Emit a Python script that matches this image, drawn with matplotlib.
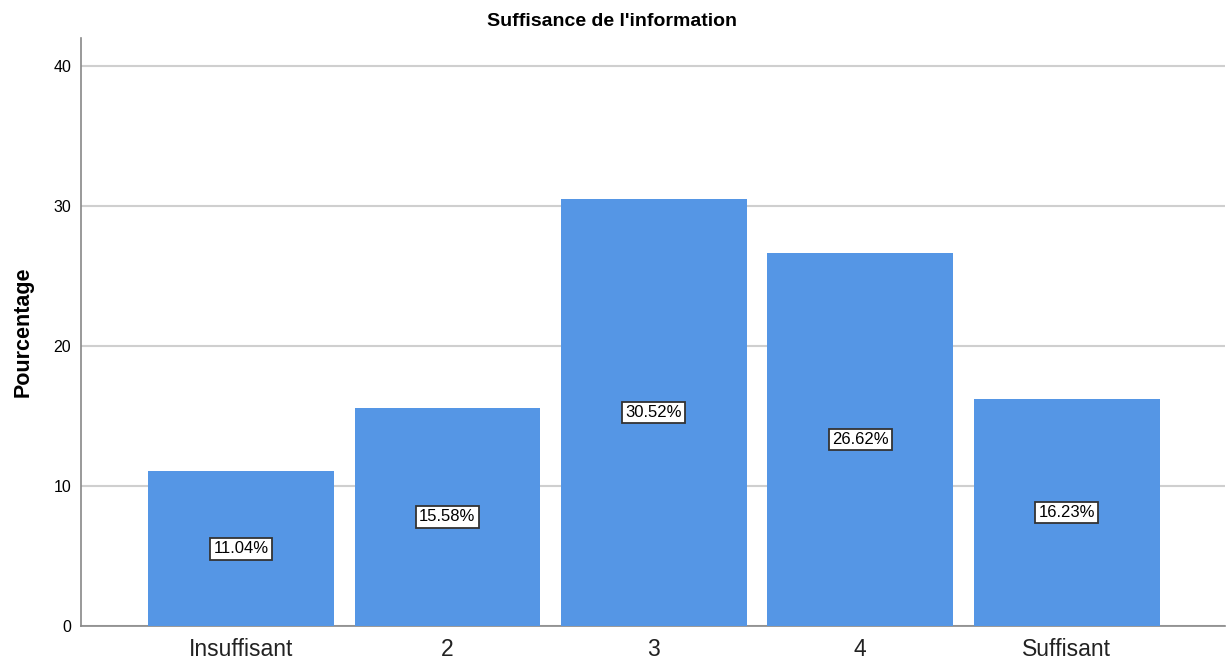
import matplotlib
matplotlib.use("Agg")
import matplotlib.pyplot as plt

categories = ["Insuffisant", "2", "3", "4", "Suffisant"]
values = [11.04, 15.58, 30.52, 26.62, 16.23]
yticks = [0, 10, 20, 30, 40]

plt.rcParams['font.family'] = ['Liberation Sans', 'DejaVu Sans']

fig = plt.figure(figsize=(12.29, 6.64), dpi=100)
ax = fig.add_axes([81/1229, 38/664, (1225-81)/1229, (626-38)/664])

x = list(range(len(categories)))
ax.bar(x, values, width=0.9, color="#5596E5", zorder=3)
for xi, v in zip(x, values):
    ax.text(xi, v/2, f"{v:.2f}%", ha="center", va="center", fontsize=12, color="black", zorder=4,
            bbox=dict(boxstyle="square,pad=0.2", facecolor="white", edgecolor="#333333", linewidth=1.3))

ax.set_xlim(-0.775, 4.767)
ax.set_ylim(0, 42)
ax.set_yticks(yticks)
ax.set_yticklabels([str(t) for t in yticks], fontsize=11.5)
ax.set_xticks(x)
ax.set_xticklabels(categories, fontsize=16.5, color="#222222")
ax.tick_params(axis="both", length=0, pad=7)
ax.tick_params(axis="x", pad=9)
ax.yaxis.grid(True, color="#cfcfcf", linewidth=1.5, zorder=0)
ax.set_axisbelow(True)
for s in ["top", "right"]:
    ax.spines[s].set_visible(False)
for s in ["left", "bottom"]:
    ax.spines[s].set_color("#888888")
    ax.spines[s].set_linewidth(1.2)

ax.set_ylabel("Pourcentage", fontsize=15.5, fontweight="bold", labelpad=14)
fig.text(612/1229, 1 - 21/664, "Suffisance de l'information", ha="center", va="center",
         fontsize=14, fontweight="bold")

fig.savefig("out.png", dpi=100)
